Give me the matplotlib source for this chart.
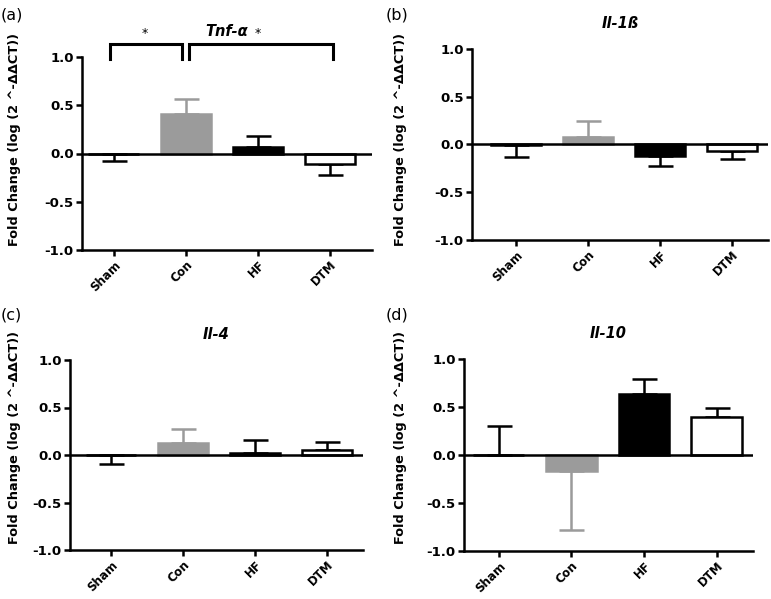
import numpy as np
import matplotlib
matplotlib.use("Agg")
import matplotlib.pyplot as plt

plt.rcParams['font.family'] = ['DejaVu Sans']

groups = ["Sham", "Con", "HF", "DTM"]
bar_colors = ["white", "#9b9b9b", "black", "white"]
edge_colors = ["black", "#9b9b9b", "black", "black"]

titles = ["Tnf-\u03b1", "Il-1ß", "Il-4", "Il-10"]
letters = ["(a)", "(b)", "(c)", "(d)"]

# means and one-sided SEM (error drawn away from zero)
tnf_mean = [-0.003, 0.41, 0.07, -0.11]
tnf_err = [0.07, 0.15, 0.11, 0.11]
il1b_mean = [-0.003, 0.075, -0.12, -0.07]
il1b_err = [0.125, 0.175, 0.10, 0.085]
il4_mean = [-0.003, 0.125, 0.02, 0.05]
il4_err = [0.09, 0.15, 0.14, 0.09]
il10_mean = [0.0, -0.17, 0.64, 0.40]
il10_err = [0.30, 0.61, 0.15, 0.09]
# Sham sits at ~0 in Il-10 but its error goes up
il10_dir = [1, -1, 1, 1]

means = [tnf_mean, il1b_mean, il4_mean, il10_mean]
errs = [tnf_err, il1b_err, il4_err, il10_err]
dirs = [[np.sign(m) if m != 0 else 1 for m in tnf_mean],
        [np.sign(m) if m != 0 else 1 for m in il1b_mean],
        [np.sign(m) if m != 0 else 1 for m in il4_mean],
        il10_dir]

W, H = 771, 599
# axes boxes in pixels: left, right, top, bottom
boxes = [(82, 372, 57, 250), (472, 768, 49, 240), (70, 363, 360, 550), (464, 753, 359, 551)]
xlims = [(-0.44, 3.58), (-0.61, 3.5), (-0.57, 3.5), (-0.48, 3.5)]
ylab_pos = [(15, 140), (400, 139), (15, 438), (400, 438)]
letter_pos = [(0, 15), (385, 15), (0, 315), (385, 315)]

fig = plt.figure(figsize=(W / 100, H / 100), dpi=100)
lw = 1.8
x = np.arange(len(groups))

for i in range(4):
    l, r, t, b = boxes[i]
    ax = fig.add_axes([l / W, 1 - b / H, (r - l) / W, (b - t) / H])
    for j in range(4):
        ax.bar(x[j], means[i][j], width=0.7, color=bar_colors[j],
               edgecolor=edge_colors[j], linewidth=lw, zorder=2)
        d = dirs[i][j]
        lo = [errs[i][j]] if d < 0 else [0]
        hi = [errs[i][j]] if d > 0 else [0]
        ax.errorbar(x[j], means[i][j], yerr=[lo, hi], fmt='none',
                    ecolor=edge_colors[j], elinewidth=lw, capsize=9,
                    capthick=lw, zorder=1)
    ax.axhline(0, color='black', lw=lw, zorder=3)
    ax.set_xlim(*xlims[i])
    ax.set_ylim(-1.0, 1.0)
    ax.set_yticks([-1.0, -0.5, 0.0, 0.5, 1.0])
    ax.set_yticklabels(["-1.0", "-0.5", "0.0", "0.5", "1.0"],
                       fontsize=9.5, fontweight='bold')
    ax.set_xticks(x)
    ax.set_xticklabels(groups, rotation=45, ha='right', rotation_mode='anchor',
                       fontsize=8.5, fontweight='bold')
    ax.spines['top'].set_visible(False)
    ax.spines['right'].set_visible(False)
    ax.spines['left'].set_linewidth(lw)
    ax.spines['bottom'].set_linewidth(lw)
    ax.tick_params(width=lw, length=4, pad=2)
    ax.set_title(titles[i], fontsize=10.5, fontweight='bold', style='italic', pad=15)

    fig.text(ylab_pos[i][0] / W, 1 - ylab_pos[i][1] / H,
             "Fold Change (log (2 ^-\u0394\u0394CT))", rotation=90,
             ha='center', va='center', fontsize=9.3, fontweight='bold')
    fig.text(letter_pos[i][0] / W + 0.001, 1 - letter_pos[i][1] / H, letters[i],
             ha='left', va='center', fontsize=11.5)

    if i == 0:
        # significance brackets
        for x0, x1, sx in [(-0.05, 0.95, 0.43), (1.04, 3.04, 1.99)]:
            ax.plot([x0, x0, x1, x1], [0.98, 1.137, 1.137, 0.98], color='black',
                    lw=2.2, clip_on=False, solid_joinstyle='miter')
            ax.text(sx, 1.24, "*", ha='center', va='center', fontsize=9)

fig.savefig("out.png", dpi=100)
